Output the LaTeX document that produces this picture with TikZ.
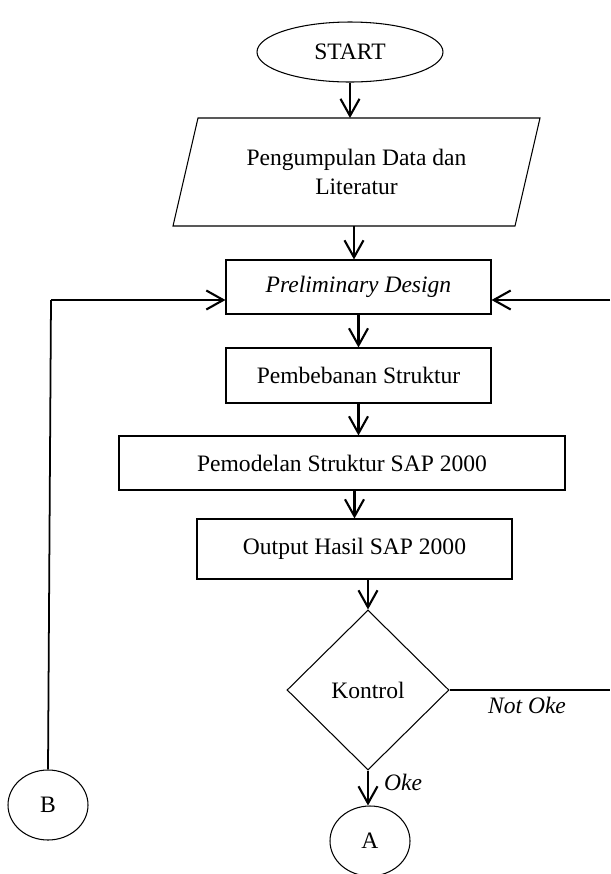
\documentclass[tikz,border=0pt]{standalone}
\usepackage{fontspec}
\setmainfont{Liberation Serif}
\usetikzlibrary{arrows.meta,shapes.geometric}

\begin{document}
\begin{tikzpicture}[>={Straight Barb[length=3.4mm,width=3.8mm]},
		font=\fontsize{13.4}{16.5}\selectfont,
		procbox/.style={draw,line width=0.6pt,rectangle,inner sep=0pt},
		flow/.style={->,line width=1.2pt},
		loopline/.style={line width=1pt}]
		\useasboundingbox (0,0) rectangle (12.2,-17.48);
		% flowchart blocks
		\node[draw,line width=0.6pt,ellipse,inner sep=0pt,minimum width=3.72cm,minimum height=1.2cm] (start) at (7.0,-1.04) {START};
		% input block, drawn as a slanted frame round its text
		\coordinate (dtl) at (3.96,-2.36);
		\coordinate (dtr) at (10.8,-2.36);
		\coordinate (dbr) at (10.3,-4.52);
		\coordinate (dbl) at (3.46,-4.52);
		\draw[line width=0.6pt] (dtl) -- (dtr) -- (dbr) -- (dbl) -- cycle;
		\node[align=center] (data) at (7.13,-3.44) {Pengumpulan Data dan\\Literatur};
		\node[procbox,minimum width=5.3cm,minimum height=1.08cm] (prelim) at (7.17,-5.74) {\itshape Preliminary Design};
		\node[procbox,minimum width=5.3cm,minimum height=1.1cm] (load) at (7.17,-7.51) {Pembebanan Struktur};
		\node[procbox,minimum width=8.92cm,minimum height=1.08cm] (model) at (6.84,-9.26) {Pemodelan Struktur SAP 2000};
		\node[procbox,minimum width=6.3cm,minimum height=1.2cm] (output) at (7.09,-10.98) {Output Hasil SAP 2000};
		\node[draw,line width=0.6pt,diamond,aspect=1,inner sep=0pt,minimum width=3.24cm,minimum height=3.2cm] (ctrl) at (7.36,-13.8) {Kontrol};
		\node[draw,line width=0.6pt,ellipse,inner sep=0pt,minimum width=1.6cm,minimum height=1.4cm] (A) at (7.4,-16.82) {A};
		\node[draw,line width=0.6pt,ellipse,inner sep=0pt,minimum width=1.6cm,minimum height=1.4cm] (B) at (0.96,-16.1) {B};
		% main flow
		\coordinate (dbot) at (7.08,-4.52);
		\draw[flow] (start.south) -- (start.south |- dtl);
		\draw[flow] (dbot) -- (dbot |- prelim.north);
		\draw[flow] (prelim.south) -- (load.north);
		\draw[flow] (load.south) -- (load.south |- model.north);
		\draw[flow] (model.south -| output.north) -- (output.north);
		\draw[flow] (output.south -| ctrl.north) -- (ctrl.north);
		\draw[flow] (ctrl.south) -- (ctrl.south |- A.north);
		\node (oke) at (8.06,-15.64) {\itshape Oke};
		% loops back to the design step
		\coordinate (cornerB) at (1.02,-6.0);
		\coordinate (edgeT) at (12.2,-6.0);
		\coordinate (edgeB) at (12.2,-13.68);
		\draw[loopline] (B.north) -- (cornerB);
		\draw[flow] (cornerB) -- (cornerB -| prelim.west);
		\draw[flow] (edgeT) -- (edgeT -| prelim.east);
		\draw[loopline] (ctrl.east) -- (ctrl.east -| edgeB);
		\node (notoke) at (10.54,-14.1) {\itshape Not Oke};
\end{tikzpicture}
\end{document}
